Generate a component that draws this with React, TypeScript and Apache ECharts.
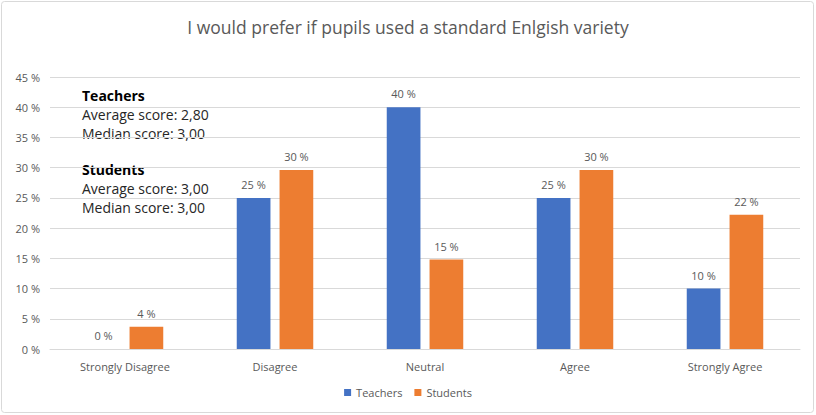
import React, { useEffect, useRef } from "react";
import * as echarts from "echarts";

const categories = ["Strongly Disagree", "Disagree", "Neutral", "Agree", "Strongly Agree"];
const teachers = [0, 25, 40, 25, 10];
const students = [3.7, 29.6, 14.8, 29.6, 22.2];
const titleText = "I would prefer if pupils used a standard Enlgish variety";
const teacherNotes = ["Average score: 2,80", "Median score: 3,00"];
const studentNotes = ["Average score: 3,00", "Median score: 3,00"];

const FONT = "'Open Sans', 'Noto Sans', sans-serif";
const GREY = "#595959";

export default function App() {
  const ref = useRef<HTMLDivElement>(null);
  useEffect(() => {
    if (!ref.current) return;
    const chart = echarts.init(ref.current, null, { renderer: "svg" });
    const labelFmt = (p: any) => Math.round(p.value) + " %";
    const noteStyle = { fill: "#262626", font: `14px ${FONT}` };
    const boldStyle = { fill: "#000000", font: `bold 14px ${FONT}` };
    chart.setOption({
      animation: false,
      backgroundColor: "#ffffff",
      textStyle: { fontFamily: FONT },
      title: {
        text: titleText,
        left: "center",
        top: 13,
        textStyle: { color: GREY, fontSize: 17.5, fontWeight: "normal", fontFamily: FONT },
      },
      legend: {
        data: ["Teachers", "Students"],
        bottom: 12,
        left: "center",
        itemWidth: 7,
        itemHeight: 7,
        itemGap: 12,
        icon: "rect",
        textStyle: { color: GREY, fontSize: 11, fontFamily: FONT },
      },
      grid: { left: 50, right: 16, top: 77, bottom: 66 },
      xAxis: {
        type: "category",
        data: categories,
        axisLine: { lineStyle: { color: "#D9D9D9" } },
        axisTick: { show: false },
        axisLabel: { color: GREY, fontSize: 11, margin: 12, fontFamily: FONT },
      },
      yAxis: {
        type: "value",
        min: 0,
        max: 45,
        interval: 5,
        axisLabel: { formatter: "{value} %", color: GREY, fontSize: 11, margin: 10, fontFamily: FONT },
        splitLine: { lineStyle: { color: "#D9D9D9" } },
        axisLine: { show: false },
        axisTick: { show: false },
      },
      series: [
        {
          name: "Teachers",
          type: "bar",
          data: teachers,
          itemStyle: { color: "#4472C4" },
          barCategoryGap: "49%",
          barGap: "27%",
          label: { show: true, position: "top", formatter: labelFmt, color: GREY, fontSize: 11, distance: 8, fontFamily: FONT },
        },
        {
          name: "Students",
          type: "bar",
          data: students,
          itemStyle: { color: "#ED7D31" },
          barCategoryGap: "49%",
          barGap: "27%",
          label: { show: true, position: "top", formatter: labelFmt, color: GREY, fontSize: 11, distance: 8, fontFamily: FONT },
        },
      ],
      graphic: [
        {
          type: "rect",
          shape: { x: 1.5, y: 1.5, width: 812, height: 411, r: 3 },
          style: { fill: "none", stroke: "#D9D9D9", lineWidth: 1 },
          silent: true,
        },
        { type: "text", x: 82, y: 88, style: { ...boldStyle, text: "Teachers" } },
        { type: "text", x: 82, y: 107, style: { ...noteStyle, text: teacherNotes[0] } },
        { type: "text", x: 82, y: 126, style: { ...noteStyle, text: teacherNotes[1] } },
        { type: "text", x: 82, y: 162, style: { ...boldStyle, text: "Students" } },
        { type: "text", x: 82, y: 181, style: { ...noteStyle, text: studentNotes[0] } },
        { type: "text", x: 82, y: 200, style: { ...noteStyle, text: studentNotes[1] } },
      ],
    });
    return () => chart.dispose();
  }, []);
  return (
    <div
      ref={ref}
      style={{ position: "absolute", left: 0, top: 0, width: 816, height: 415 }}
    />
  );
}
